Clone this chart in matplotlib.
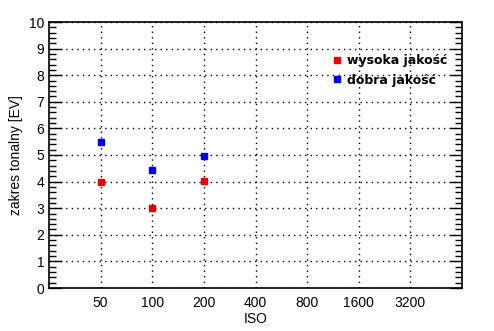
import numpy as np
import matplotlib
matplotlib.use('Agg')
import matplotlib.pyplot as plt
from matplotlib.ticker import MultipleLocator

iso_labels = ['50', '100', '200', '400', '800', '1600', '3200']
iso_pos = np.arange(len(iso_labels))
wysoka = [4.0, 3.0, 4.02]
dobra = [5.5, 4.42, 4.95]

plt.rcParams['font.family'] = ['Liberation Sans', 'DejaVu Sans']
fig = plt.figure(figsize=(4.94, 3.31), dpi=100)
ax = fig.add_axes([49/494, 1-288/331, (462-49)/494, (288-22)/331])

ax.plot(iso_pos[:3], wysoka, 's', color='#ee0000', ms=5, label='wysoka jakość')
ax.plot(iso_pos[:3], dobra, 's', color='#0000ee', ms=5, label='dobra jakość')

ax.set_xlim(-1, 7)
ax.set_ylim(0, 10)
ax.set_xticks(iso_pos)
ax.set_xticklabels(iso_labels)
ax.yaxis.set_major_locator(MultipleLocator(1))
ax.yaxis.set_minor_locator(MultipleLocator(0.2))
ax.tick_params(axis='x', length=0, labelsize=10, pad=6)
ax.tick_params(axis='y', which='major', direction='in', length=9, left=True, right=True, labelsize=10, width=1)
ax.tick_params(axis='y', which='minor', direction='in', length=5, left=True, right=True, width=1)
ax.grid(True, which='major', color='black', linestyle=(0, (1, 3)), linewidth=1)
for s in ax.spines.values():
    s.set_linewidth(1.2)

ax.set_xlabel('ISO', fontsize=10, labelpad=1)
ax.set_ylabel('zakres tonalny [EV]', fontsize=10)

leg = ax.legend(loc='upper right', bbox_to_anchor=(0.965, 0.88), frameon=False, handlelength=0.6,
                handletextpad=0.5, labelspacing=0.55, borderaxespad=0, borderpad=0,
                prop={'family': 'DejaVu Sans', 'weight': 'bold', 'size': 9})

fig.savefig('out.png', dpi=100)
